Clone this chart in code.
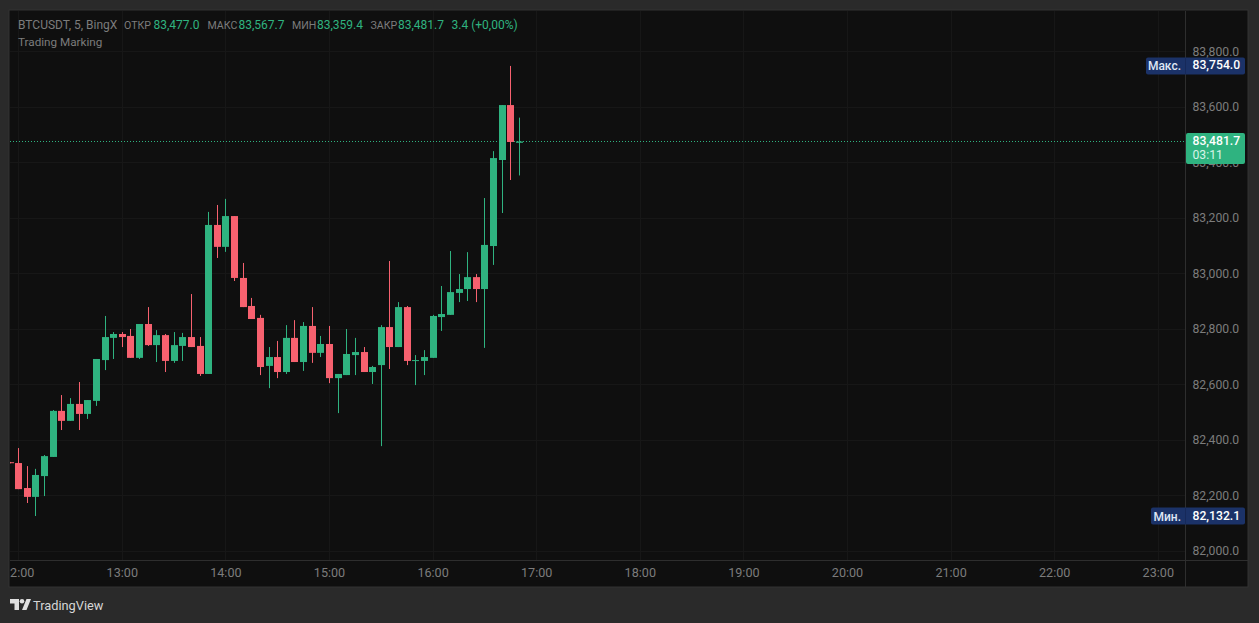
<!DOCTYPE html>
<html>
<head>
<meta charset="utf-8">
<script src="https://cdn.jsdelivr.net/npm/d3@7"></script>
<style>
  html, body { margin: 0; padding: 0; background: #2a2a2a; overflow: hidden; }
  text { font-family: Roboto, "Noto Sans", sans-serif; }
</style>
</head>
<body>
<div id="app"></div>
<script>
// 5 minute candles, first one opens 11:55
const opens = [82326, 82323, 82233, 82201, 82276, 82345, 82511, 82475, 82536, 82500, 82547, 82694, 82774, 82788, 82781, 82702, 82824, 82748, 82784, 82691, 82745, 82777, 82745, 82644, 83181, 83102, 83213, 82990, 82889, 82846, 82673, 82705, 82651, 82774, 82687, 82817, 82720, 82752, 82629, 82640, 82712, 82723, 82651, 82676, 82813, 82741, 82885, 82691, 82691, 82702, 82849, 82857, 82936, 82950, 82993, 82950, 83105, 83415, 83613, 83477.0];
const highs = [82327, 82377, 82312, 82302, 82352, 82514, 82568, 82557, 82615, 82550, 82698, 82853, 82795, 82795, 82806, 82824, 82885, 82802, 82788, 82795, 82792, 82932, 82777, 83228, 83253, 83275, 83213, 83044, 82918, 82857, 82741, 82763, 82820, 82838, 82831, 82885, 82781, 82817, 82644, 82806, 82774, 82741, 82673, 82820, 83051, 82903, 82889, 82712, 82730, 82857, 82961, 83087, 83004, 83083, 83004, 83278, 83447, 83613, 83754.0, 83567.7];
const lows = [82322, 82229, 82179, 82132.1, 82204, 82345, 82442, 82475, 82442, 82482, 82529, 82658, 82698, 82741, 82702, 82698, 82745, 82687, 82651, 82684, 82691, 82741, 82637, 82644, 83062, 83084, 82979, 82885, 82842, 82640, 82593, 82629, 82644, 82687, 82655, 82684, 82705, 82611, 82503, 82640, 82640, 82651, 82608, 82384, 82662, 82741, 82676, 82604, 82640, 82702, 82799, 82857, 82903, 82907, 82903, 82738, 83037, 83224, 83343, 83359.4];
const closes = [82323, 82229, 82201, 82280, 82348, 82511, 82475, 82536, 82500, 82550, 82698, 82777, 82788, 82777, 82702, 82824, 82748, 82784, 82691, 82748, 82777, 82741, 82644, 83181, 83102, 83213, 82990, 82885, 82842, 82669, 82705, 82651, 82774, 82687, 82817, 82720, 82752, 82629, 82644, 82716, 82723, 82651, 82669, 82813, 82741, 82885, 82691, 82694, 82705, 82853, 82860, 82939, 82950, 82993, 82950, 83109, 83422, 83613, 83480, 83481.7];

const priceTicks = [82000, 82200, 82400, 82600, 82800, 83000, 83200, 83400, 83600, 83800];
const hourTicks = ["12:00", "13:00", "14:00", "15:00", "16:00", "17:00", "18:00", "19:00", "20:00", "21:00", "22:00", "23:00"];

const lastPrice = 83481.7;
const countdown = "03:11";
const maxPrice = 83754.0;
const minPrice = 82132.1;

const legendHead = "BTCUSDT, 5, BingX";
const legendNames = ["ОТКР", "МАКС", "МИН", "ЗАКР"];
const legendValues = ["83,477.0", "83,567.7", "83,359.4", "83,481.7"];
const legendChange = "3.4 (+0,00%)";
const indicatorName = "Trading Marking";

const width = 1259;
const height = 623;
const plotLeft = 10;
const plotRight = 1185;
const plotTop = 11;
const plotBottom = 560;
const axisRight = 1248;
const axisBottom = 587;

const green = "#2fb380";
const red = "#f7616f";
const grid = "#171717";
const textGrey = "#7c7c7c";

const parseTime = d3.utcParse("%H:%M");
const times = opens.map((d, i) => d3.utcMinute.offset(parseTime("11:55"), i * 5));

// 12:00 sits at 18.2 and one hour is 103.6 px
const x = d3
  .scaleUtc()
  .domain([parseTime("12:00"), parseTime("23:00")])
  .range([18.2, 18.2 + 103.6 * 11]);

const y = d3
  .scaleLinear()
  .domain([lastPrice, 82000])
  .range([141.5, 141.5 + (lastPrice - 82000) * 0.2775]);

const svg = d3
  .select("#app")
  .append("svg")
  .attr("width", width)
  .attr("height", height)
  .style("display", "block");

svg
  .append("rect")
  .attr("x", plotLeft - 1)
  .attr("y", plotTop - 1)
  .attr("width", axisRight - plotLeft + 1)
  .attr("height", axisBottom - plotTop + 1)
  .attr("fill", "#0f0f0f")
  .attr("stroke", "#333333");

svg
  .append("clipPath")
  .attr("id", "plot-clip")
  .append("rect")
  .attr("x", plotLeft)
  .attr("y", plotTop)
  .attr("width", plotRight - plotLeft)
  .attr("height", plotBottom - plotTop);

svg
  .append("clipPath")
  .attr("id", "time-clip")
  .append("rect")
  .attr("x", plotLeft)
  .attr("y", plotBottom)
  .attr("width", plotRight - plotLeft)
  .attr("height", axisBottom - plotBottom);

// grid
const plot = svg.append("g").attr("clip-path", "url(#plot-clip)");

plot
  .selectAll("line.h")
  .data(priceTicks)
  .enter()
  .append("line")
  .attr("class", "h")
  .attr("x1", plotLeft)
  .attr("x2", plotRight)
  .attr("y1", (d) => Math.round(y(d)) - 1.5)
  .attr("y2", (d) => Math.round(y(d)) - 1.5)
  .attr("stroke", grid);

plot
  .selectAll("line.v")
  .data(hourTicks)
  .enter()
  .append("line")
  .attr("class", "v")
  .attr("x1", (d) => Math.round(x(parseTime(d))) + 0.5)
  .attr("x2", (d) => Math.round(x(parseTime(d))) + 0.5)
  .attr("y1", plotTop)
  .attr("y2", plotBottom)
  .attr("stroke", grid);

// last price line goes under the candles
plot
  .append("line")
  .attr("x1", plotLeft)
  .attr("x2", plotRight)
  .attr("y1", y(lastPrice))
  .attr("y2", y(lastPrice))
  .attr("stroke", green)
  .attr("stroke-dasharray", "1 2");

const candles = plot
  .selectAll("g.candle")
  .data(times)
  .enter()
  .append("g")
  .attr("class", "candle")
  .attr("fill", (d, i) => (closes[i] >= opens[i] ? green : red));

candles
  .append("rect")
  .attr("x", (d) => Math.round(x(d)))
  .attr("y", (d, i) => y(highs[i]))
  .attr("width", 1)
  .attr("height", (d, i) => y(lows[i]) - y(highs[i]));

candles
  .append("rect")
  .attr("x", (d) => Math.round(x(d)) - 3)
  .attr("y", (d, i) => y(Math.max(opens[i], closes[i])))
  .attr("width", 7)
  .attr("height", (d, i) =>
    Math.max(1, Math.abs(y(opens[i]) - y(closes[i])))
  );

// axis borders
svg
  .append("line")
  .attr("x1", plotRight + 0.5)
  .attr("x2", plotRight + 0.5)
  .attr("y1", plotTop)
  .attr("y2", axisBottom)
  .attr("stroke", "#2e2e2e");

svg
  .append("line")
  .attr("x1", plotLeft)
  .attr("x2", axisRight)
  .attr("y1", plotBottom + 0.5)
  .attr("y2", plotBottom + 0.5)
  .attr("stroke", "#2e2e2e");

const yAxis = svg
  .append("g")
  .attr("transform", `translate(${plotRight},-2)`)
  .call(
    d3
      .axisRight(y)
      .tickValues(priceTicks)
      .tickSize(0)
      .tickPadding(7.5)
      .tickFormat(d3.format(",.1f"))
  );

const xAxis = svg
  .append("g")
  .attr("clip-path", "url(#time-clip)")
  .append("g")
  .attr("transform", `translate(0,${plotBottom + 2})`)
  .call(
    d3
      .axisBottom(x)
      .tickValues(hourTicks.map((d) => parseTime(d)))
      .tickSize(0)
      .tickPadding(6)
      .tickFormat(d3.utcFormat("%H:%M"))
  );

[yAxis, xAxis].forEach((a) => {
  a.select(".domain").remove();
  a.selectAll("text")
    .attr("fill", textGrey)
    .style("font-size", "12.2px");
});
xAxis.selectAll("text").style("font-size", "12.6px");

// max / min tags
const tags = [
  { name: "Макс.", value: maxPrice, left: 1146 },
  { name: "Мин.", value: minPrice, left: 1151 },
];

tags.forEach((t) => {
  const cy = y(t.value);
  svg
    .append("rect")
    .attr("x", t.left)
    .attr("y", cy - 8.5)
    .attr("width", 1245 - t.left)
    .attr("height", 17)
    .attr("rx", 2)
    .attr("fill", "#1b3268");
  svg
    .append("line")
    .attr("x1", plotRight + 0.5)
    .attr("x2", plotRight + 0.5)
    .attr("y1", cy - 8.5)
    .attr("y2", cy + 8.5)
    .attr("stroke", "#16295a");
  svg
    .append("text")
    .attr("x", plotRight - 4)
    .attr("y", cy + 4.5)
    .attr("text-anchor", "end")
    .attr("fill", "#dfe6f5")
    .style("font-size", "12px")
    .style("font-weight", 500)
    .text(t.name);
  svg
    .append("text")
    .attr("x", plotRight + 7.5)
    .attr("y", cy + 3.5)
    .attr("fill", "#ffffff")
    .style("font-size", "12.2px")
    .style("font-weight", 500)
    .text(d3.format(",.1f")(t.value));
});

// last price tag
const lastY = y(lastPrice);
svg
  .append("rect")
  .attr("x", plotRight + 1)
  .attr("y", lastY - 8.5)
  .attr("width", 59)
  .attr("height", 31)
  .attr("rx", 2)
  .attr("fill", green);
svg
  .append("text")
  .attr("x", plotRight + 7.5)
  .attr("y", lastY + 3.5)
  .attr("fill", "#ffffff")
  .style("font-size", "12.2px")
  .style("font-weight", 500)
  .text(d3.format(",.1f")(lastPrice));
svg
  .append("text")
  .attr("x", plotRight + 7.5)
  .attr("y", lastY + 17)
  .attr("fill", "#d8f3e8")
  .style("font-size", "12.2px")
  .text(countdown);

// legend
const legend = svg.append("g").style("font-size", "12px");
const nameX = [124, 207.5, 292, 370.5];
const valueX = [153.5, 238.5, 317, 398];

legend
  .append("text")
  .attr("x", 18)
  .attr("y", 29)
  .attr("fill", textGrey)
  .text(legendHead);

legend
  .selectAll("text.name")
  .data(legendNames)
  .enter()
  .append("text")
  .attr("class", "name")
  .attr("x", (d, i) => nameX[i])
  .attr("y", 29)
  .attr("fill", textGrey)
  .style("font-size", "10.6px")
  .text((d) => d);

legend
  .selectAll("text.value")
  .data(legendValues)
  .enter()
  .append("text")
  .attr("class", "value")
  .attr("x", (d, i) => valueX[i])
  .attr("y", 29)
  .attr("fill", green)
  .text((d) => d);

legend
  .append("text")
  .attr("x", 451.5)
  .attr("y", 29)
  .attr("fill", green)
  .text(legendChange);

legend
  .append("text")
  .attr("x", 18)
  .attr("y", 46)
  .attr("fill", textGrey)
  .style("font-size", "11.7px")
  .text(indicatorName);

// logo
const logo = svg
  .append("g")
  .attr("transform", "translate(10,599)")
  .attr("fill", "#e0e0e0");
logo.append("path").attr("d", "M0 0H9V11H4.5V4.5H0Z");
logo.append("circle").attr("cx", 12).attr("cy", 2.3).attr("r", 2.3);
logo.append("path").attr("d", "M16.5 0H21L16.5 11H12Z");

svg
  .append("text")
  .attr("x", 33)
  .attr("y", 610)
  .attr("fill", "#d6d6d6")
  .style("font-size", "12.8px")
  .text("TradingView");
</script>
</body>
</html>
